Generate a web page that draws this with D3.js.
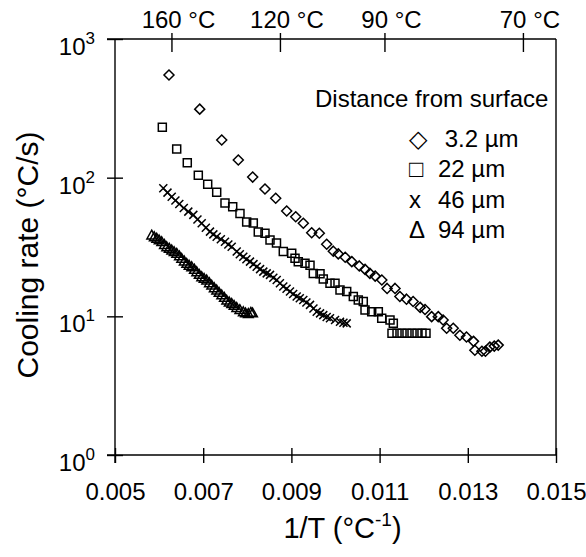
<!DOCTYPE html>
<html>
<head>
<meta charset="utf-8">
<script src="https://cdn.jsdelivr.net/npm/d3@7"></script>
<style>
html,body{margin:0;padding:0;background:#fff;}
svg{display:block;}
text{font-family:"Liberation Sans",Arial,sans-serif;fill:#000;}
</style>
</head>
<body>
<svg id="chart" width="586" height="557"></svg>
<script>
// ---- data (1/T in °C^-1, cooling rate in °C/s) ----
const series3_2_x = [0.006224,0.006921,0.007420,0.007796,0.008122,0.008401,0.008644,0.008893,0.009098,0.009270,0.009460,0.009633,0.009800,0.009950,0.010063,0.010220,0.010370,0.010540,0.010670,0.010780,0.010900,0.011050,0.011170,0.011350,0.011460,0.011610,0.011760,0.011920,0.012030,0.012180,0.012330,0.012440,0.012520,0.012670,0.012820,0.012970,0.013130,0.013160,0.013320,0.013400,0.013500,0.013600,0.013690];
const series3_2_y = [550,312,187,134,101,82.8,71,57.5,52.3,46.9,40.1,39.7,33.1,29.5,28.2,26.7,24.8,23.1,21.8,20.4,19.5,18.3,15.9,15.9,13.9,13.3,12.8,11.6,11.2,9.95,9.95,9.4,8.2,8.2,7.3,7.1,6.6,5.7,5.6,5.6,6.0,6.1,6.2];
const series22_x = [0.006073,0.006399,0.006639,0.006889,0.007102,0.007306,0.007494,0.007669,0.007834,0.007986,0.008136,0.008249,0.008401,0.008515,0.008662,0.008816,0.009007,0.009082,0.009156,0.009308,0.009422,0.009497,0.009649,0.009723,0.009875,0.009989,0.010102,0.010254,0.010404,0.010517,0.010630,0.010669,0.010821,0.010971,0.011048,0.011236,0.011311,0.011281,0.011395,0.011508,0.011621,0.011735,0.011848,0.011961,0.012052];
const series22_y = [231,161,128,104,89.5,78.4,65.6,61.8,55.2,47.9,47.1,40.6,39.7,35.5,33.8,29.3,28.5,26.2,24.8,24.1,23.4,20.4,20.3,18.6,17.3,17.3,15.5,15.1,13.9,13.1,12.8,11.1,10.8,10.8,9.7,9.4,8.9,7.55,7.55,7.55,7.55,7.55,7.55,7.55,7.55];
const series46_x = [0.006095,0.006190,0.006286,0.006370,0.006458,0.006560,0.006662,0.006776,0.006870,0.006966,0.007060,0.007154,0.007230,0.007306,0.007400,0.007494,0.007570,0.007646,0.007760,0.007830,0.007909,0.007980,0.008061,0.008140,0.008213,0.008290,0.008363,0.008440,0.008515,0.008590,0.008667,0.008740,0.008816,0.008890,0.008968,0.009040,0.009120,0.009190,0.009270,0.009340,0.009422,0.009500,0.009574,0.009650,0.009723,0.009800,0.009875,0.009990,0.010102,0.010180,0.010254];
const series46_y = [83.8,78.0,72.9,68.5,64.6,60.5,56.9,53.9,50.0,46.9,43.5,40.8,39.0,37.5,36.0,34.5,33.0,31.8,29.3,28.0,26.9,25.8,24.8,23.8,22.8,21.9,21.0,20.4,19.9,19.0,18.3,17.3,16.4,15.8,15.1,14.5,13.9,13.5,13.1,12.6,12.1,11.4,10.8,10.5,10.2,9.9,9.7,9.4,9.15,9.0,8.9];
const series94_x = [0.005832,0.005890,0.005946,0.006000,0.006059,0.006120,0.006172,0.006230,0.006286,0.006340,0.006399,0.006460,0.006512,0.006570,0.006626,0.006680,0.006739,0.006800,0.006853,0.006910,0.006966,0.007020,0.007079,0.007140,0.007193,0.007250,0.007306,0.007360,0.007420,0.007480,0.007533,0.007590,0.007646,0.007700,0.007760,0.007830,0.007909,0.007960,0.008023,0.008080,0.008120];
const series94_y = [38.6,37.5,36.6,35.6,34.6,33.0,31.8,31.0,30.1,29.3,28.5,27.3,26.2,25.1,24.1,23.4,22.8,21.9,21.0,20.1,19.3,18.8,18.3,17.5,16.8,16.1,15.5,14.9,14.3,13.7,13.1,12.7,12.4,12.0,11.6,11.2,10.8,10.6,10.5,10.7,10.6];

const xTicks = [0.005,0.007,0.009,0.011,0.013,0.015];
const xTickLabels = ["0.005","0.007","0.009","0.011","0.013","0.015"];
const yTicks = [1,10,100,1000];
const yTickExp = ["0","1","2","3"];
const topTickValues = [0.00628,0.00874,0.01111,0.01425];
const topTickLabels = ["160 °C","120 °C","90 °C","70 °C"];
const legendTitle = "Distance from surface";
const legendSymbols = ["◇","□","x","Δ"];
const legendLabels = [" 3.2 µm","22 µm","46 µm","94 µm"];

// ---- layout ----
const L = 115, R = 556, T = 39, B = 455;
const svg = d3.select("#chart");
const x = d3.scaleLinear().domain([0.005,0.015]).range([L,R]);
const y = d3.scaleLog().domain([1,1000]).range([B,T]);
const SW = 1.4;

// bottom axis
const gB = svg.append("g").attr("transform",`translate(0,${B})`)
  .call(d3.axisBottom(x).tickValues(xTicks).tickFormat((d,i)=>xTickLabels[i]).tickSize(8).tickSizeOuter(0));
gB.select(".domain").remove();
gB.selectAll(".tick line").attr("y1",-7).attr("stroke","#000").attr("stroke-width",SW);
gB.selectAll(".tick text").attr("font-size",24).attr("font-family","Liberation Sans, Arial, sans-serif")
  .attr("y",45).attr("dy",0);
svg.append("line").attr("x1",107).attr("x2",R).attr("y1",B).attr("y2",B).attr("stroke","#000").attr("stroke-width",SW);

// left axis
const gL = svg.append("g").attr("transform",`translate(${L},0)`)
  .call(d3.axisLeft(y).tickValues(yTicks).tickFormat("").tickSize(8).tickSizeOuter(0));
gL.select(".domain").remove();
gL.selectAll(".tick line").attr("x1",8).attr("stroke","#000").attr("stroke-width",SW);
svg.append("line").attr("x1",L).attr("x2",L).attr("y1",T).attr("y2",B+8).attr("stroke","#000").attr("stroke-width",SW);
const yl = svg.append("g").selectAll("text").data(yTicks).join("text")
  .attr("x",95).attr("y",d=>y(d)+16).attr("text-anchor","end").attr("font-size",24);
yl.append("tspan").text("10");
yl.append("tspan").attr("font-size",17).attr("dy",-11).text((d,i)=>yTickExp[i]);

// top axis
const gT = svg.append("g").attr("transform",`translate(0,${T})`)
  .call(d3.axisTop(x).tickValues(topTickValues).tickFormat("").tickSize(6).tickSizeOuter(0));
gT.select(".domain").remove();
gT.selectAll(".tick line").attr("y1",13).attr("stroke","#000").attr("stroke-width",SW);
svg.append("line").attr("x1",107).attr("x2",R).attr("y1",T).attr("y2",T).attr("stroke","#000").attr("stroke-width",SW);
svg.append("g").selectAll("text").data(topTickValues).join("text")
  .attr("x",d=>x(d)+7).attr("y",28).attr("text-anchor","middle").attr("font-size",24)
  .text((d,i)=>topTickLabels[i]);

// right frame
svg.append("line").attr("x1",R).attr("x2",R).attr("y1",T).attr("y2",B).attr("stroke","#000").attr("stroke-width",SW);

// axis titles
const xt = svg.append("text").attr("x",(L+R)/2+7).attr("y",538).attr("text-anchor","middle").attr("font-size",29);
xt.append("tspan").text("1/T (°C");
xt.append("tspan").attr("font-size",19).attr("dy",-12).text("-1");
xt.append("tspan").attr("dy",12).text(")");
svg.append("text").attr("transform",`translate(38,${(T+B)/2+8}) rotate(-90)`).attr("text-anchor","middle").attr("font-size",30)
  .text("Cooling rate (°C/s)");

// markers
const mk = svg.append("g").attr("fill","none").attr("stroke","#000").attr("stroke-width",1.5);
const zip = (xs,ys)=>xs.map((v,i)=>[v,ys[i]]);
mk.selectAll(".s1").data(zip(series3_2_x,series3_2_y)).join("path").attr("class","s1")
  .attr("transform",d=>`translate(${x(d[0])},${y(d[1])})`)
  .attr("d","M0,-5L5,0L0,5L-5,0Z");
mk.selectAll(".s2").data(zip(series22_x,series22_y)).join("path").attr("class","s2")
  .attr("transform",d=>`translate(${x(d[0])},${y(d[1])})`)
  .attr("d","M-4,-4H4V4H-4Z");
mk.selectAll(".s3").data(zip(series46_x,series46_y)).join("path").attr("class","s3")
  .attr("transform",d=>`translate(${x(d[0])},${y(d[1])})`)
  .attr("d","M-4,-4L4,4M-4,4L4,-4");
mk.selectAll(".s4").data(zip(series94_x,series94_y)).join("path").attr("class","s4")
  .attr("transform",d=>`translate(${x(d[0])},${y(d[1])})`)
  .attr("d","M0,-4.8L4.8,4H-4.8Z");

// legend
svg.append("text").attr("x",315).attr("y",107).attr("font-size",24).text(legendTitle);
const lg = svg.append("g");
legendLabels.forEach((lab,i)=>{
  const yy = 147 + i*30.3;
  lg.append("text").attr("x",409).attr("y",yy).attr("font-size",24)
    .style("font-family","'Liberation Sans','DejaVu Sans',sans-serif").text(legendSymbols[i]);
  lg.append("text").attr("x",438).attr("y",yy).attr("font-size",24).style("white-space","pre").text(lab);
});
</script>
</body>
</html>
